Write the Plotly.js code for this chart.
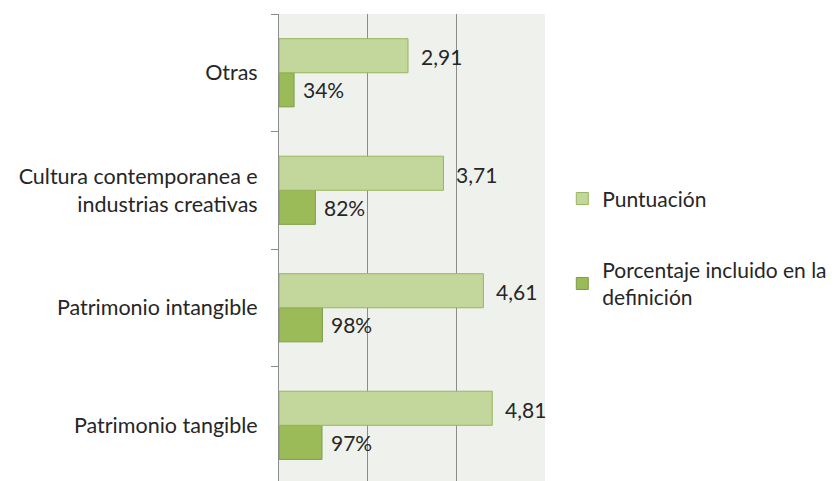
<!DOCTYPE html>
<html><head><meta charset="utf-8">
<script src="https://cdn.plot.ly/plotly-3.0.1.min.js"></script>
<style>html,body{margin:0;padding:0;background:#fff}#chart{width:839px;height:481px}</style>
</head><body><div id="chart"></div>
<script>
// bottom -> top order
const categories = ["Patrimonio tangible", "Patrimonio intangible", "Cultura contemporanea e<br>industrias creativas", "Otras"];
const puntuacion = [4.81, 4.61, 3.71, 2.91];
const porcentaje = [0.97, 0.98, 0.82, 0.34];
const seriesNames = ["Puntuación", "Porcentaje incluido en la<br>definición"];

const fontFam = "Lato, 'Open Sans', sans-serif";
const txtColor = "#262626";

const tracePct = {
  type: "bar", orientation: "h", name: seriesNames[1],
  y: categories, x: porcentaje, legendgroup: "b", legendrank: 2,
  marker: {color: "#9BBB59", line: {color: "#7E9D46", width: 1}},
  hoverinfo: "none"
};
const tracePts = {
  type: "bar", orientation: "h", name: seriesNames[0],
  y: categories, x: puntuacion, legendgroup: "a", legendrank: 1,
  marker: {color: "#C3D69B", line: {color: "#98B65A", width: 1}},
  hoverinfo: "none"
};

const annotations = [];
categories.forEach((c, i) => {
  annotations.push({x: puntuacion[i], y: c, xref: "x", yref: "y", xanchor: "left", yanchor: "middle",
    xshift: 11, yshift: 16, showarrow: false, text: puntuacion[i].toFixed(2).replace(".", ","),
    font: {family: fontFam, size: 21, color: txtColor}});
  annotations.push({x: porcentaje[i], y: c, xref: "x", yref: "y", xanchor: "left", yanchor: "middle",
    xshift: 7, yshift: -17, showarrow: false, text: Math.round(porcentaje[i] * 100) + "%",
    font: {family: fontFam, size: 21, color: txtColor}});
});

const layout = {
  width: 839, height: 481,
  margin: {l: 279, r: 294, t: 14, b: 0},
  paper_bgcolor: "#ffffff", plot_bgcolor: "#EFF2EC",
  barmode: "group", bargap: 0.42, bargroupgap: 0,
  font: {family: fontFam, size: 21, color: txtColor},
  showlegend: true,
  legend: {x: 1.065, xanchor: "left", y: 0.648, yanchor: "top",
    font: {family: fontFam, size: 21, color: txtColor},
    traceorder: "grouped", tracegroupgap: 41, itemwidth: 30, bgcolor: "rgba(0,0,0,0)"},
  xaxis: {range: [0, 6], dtick: 2, tick0: 0, showticklabels: false, showgrid: true,
    gridcolor: "#8C8C8C", gridwidth: 1, zeroline: false, showline: false, ticks: "", fixedrange: true},
  yaxis: {type: "category", range: [-0.474, 3.5], showline: true, linecolor: "#8C8C8C", linewidth: 1,
    ticks: "outside", tickson: "boundaries", ticklen: 7, tickcolor: "#8C8C8C",
    ticklabelstandoff: 16, showgrid: false, zeroline: false, fixedrange: true,
    tickfont: {family: fontFam, size: 21.5, color: txtColor}},
  annotations: annotations
};

Plotly.newPlot("chart", [tracePct, tracePts], layout, {displayModeBar: false, staticPlot: true});
</script></body></html>
